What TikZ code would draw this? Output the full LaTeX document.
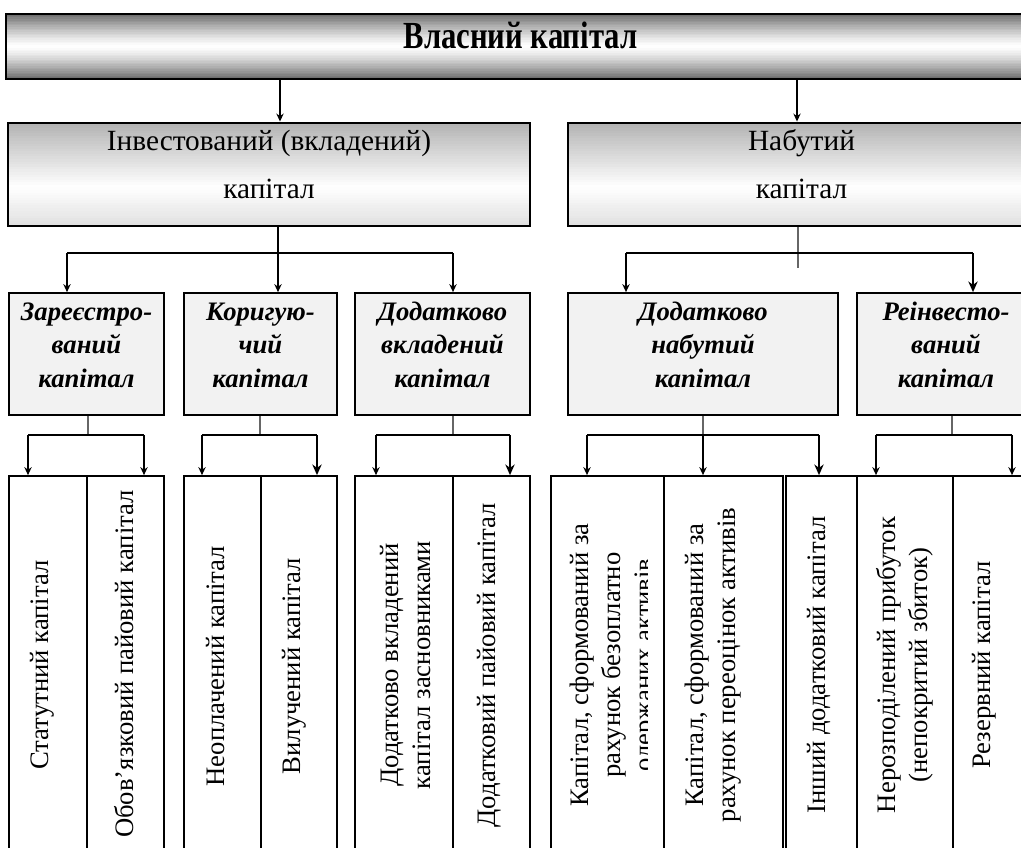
\documentclass[tikz,border=0pt]{standalone}
\usepackage{fontspec}
\setmainfont{Liberation Serif}
\usetikzlibrary{arrows.meta,fit}
\tikzset{
  lvone/.style={draw=black, line width=2.2pt, inner sep=0pt, font=\fontsize{25}{30}\selectfont\bfseries},
  lvtwo/.style={draw=black, line width=2.2pt, inner sep=0pt, align=center, font=\fontsize{22}{36}\selectfont},
  lvthree/.style={draw=black, line width=1.3pt, fill=black!5, inner sep=0pt, align=center, font=\fontsize{20}{25}\selectfont\bfseries\itshape},
  col/.style={draw=black, line width=1.3pt, fill=white, inner sep=0pt},
  vtext/.style={rotate=90, align=center, inner sep=0pt, font=\fontsize{20}{24}\selectfont},
  ln/.style={draw=black, line width=1.1pt},
  stemln/.style={draw=black!60, line width=0.8pt},
  arr/.style={draw=black, line width=1.1pt, -{Stealth[length=6pt,width=5.5pt]}},
  arrk/.style={draw=black, line width=1.8pt, -{Stealth[length=8pt,width=7pt]}},
}
\begin{document}
\begin{tikzpicture}[x=0.75pt,y=-0.75pt]
\useasboundingbox (0,0) rectangle (1021,847);
\clip (0,0) rectangle (1021,847);
\fill[white] (0,0) rectangle (1021,847);

% gradient backgrounds
\foreach \i in {0,...,39}{
  \pgfmathsetmacro\tt{(\i+0.5)/40}
  \pgfmathsetmacro\g{58*abs(2*\tt-1)^1.3}
  \fill[black!\g] (6,{14+65*\i/40}) rectangle (1035,{14+65*(\i+1)/40+0.6});
}
\foreach \i in {0,...,39}{
  \pgfmathsetmacro\tt{(\i+0.5)/40}
  \pgfmathsetmacro\g{\tt<0.62 ? 30*(1-\tt/0.62) : 12*(\tt-0.62)/0.38}
  \fill[black!\g] (8,{123+103*\i/40}) rectangle (530,{123+103*(\i+1)/40+0.6});
  \fill[black!\g] (568,{123+103*\i/40}) rectangle (1035,{123+103*(\i+1)/40+0.6});
}

% level 1
\node[lvone, fit={(6,14) (1035,79)}] (top) {\raisebox{-4pt}{\scalebox{0.92}[1.15]{Власний капітал}}};

% level 2
\node[lvtwo, fit={(8,123) (530,226)}] (inv) {Інвестований (вкладений)\\капітал};
\node[lvtwo, fit={(568,123) (1035,226)}] (nab) {Набутий\\капітал};

% level 3
\node[lvthree, fit={(9,293) (164,415)}] (reg) {Зареєстро-\\ваний\\капітал};
\node[lvthree, fit={(184,293) (337,415)}] (kor) {Коригую-\\чий\\капітал};
\node[lvthree, fit={(355,293) (530,415)}] (dv) {Додатково\\вкладений\\капітал};
\node[lvthree, fit={(568,293) (838,415)}] (dn) {Додатково\\набутий\\капітал};
\node[lvthree, fit={(857,293) (1035,415)}] (rein) {Реінвесто-\\ваний\\капітал};

% level 4 columns
\node[col, fit={(9,476) (87,880)}] (c1) {};
\node[col, fit={(87,476) (164,880)}] (c2) {};
\node[col, fit={(184,476) (261,880)}] (c3) {};
\node[col, fit={(261,476) (337,880)}] (c4) {};
\node[col, fit={(355,476) (453,880)}] (c5) {};
\node[col, fit={(453,476) (530,880)}] (c6) {};
\node[col, fit={(551,476) (664,880)}] (c7) {};
\node[col, fit={(664,476) (783,880)}] (c8) {};
\node[col, fit={(786,476) (857,880)}] (c9) {};
\node[col, fit={(857,476) (953,880)}] (c10) {};
\node[col, fit={(953,476) (1035,880)}] (c11) {};

\node[vtext] (t1) at (42,665) {Статутний капітал};
\node[vtext] (t2) at (124,664) {Обов’язковий пайовий капітал};
\node[vtext] (t3) at (215,666) {Неоплачений капітал};
\node[vtext] (t4) at (294,666) {Вилучений капітал};
\node[vtext] (t5) at (405,665) {Додатково вкладений\\капітал засновниками};
\node[vtext] (t6) at (489,665) {Додатковий пайовий капітал};
\begin{scope}
\clip (551,476) rectangle (647,880);
\node[vtext] (t7) at (614,665) {Капітал, сформований за\\рахунок безоплатно\\одержаних активів};
\end{scope}
\node[vtext] (t8) at (713,665) {Капітал, сформований за\\рахунок переоцінок активів};
\node[vtext] (t9) at (819,665) {Інший додатковий капітал};
\node[vtext] (t10) at (905,665) {Нерозподілений прибуток\\(непокритий збиток)};
\node[vtext] (t11) at (984,665) {Резервний капітал};

% level 1 -> 2
\coordinate (xa) at (280,100);
\coordinate (xb) at (797,100);
\draw[arr] (top.south -| xa) -- (inv.north -| xa);
\draw[arr] (top.south -| xb) -- (nab.north -| xb);

% level 2 -> 3
\coordinate (j1) at (278,253);
\coordinate (b1) at (67,253);
\coordinate (b3) at (453,253);
\draw[ln] (inv.south -| j1) -- (j1);
\draw[ln] (b1) -- (b3);
\draw[arr] (b1) -- (reg.north -| b1);
\draw[arr] (j1) -- (kor.north -| j1);
\draw[arr] (b3) -- (dv.north -| b3);

\coordinate (j2) at (798,253);
\coordinate (j2e) at (798,268);
\coordinate (b4) at (626,253);
\coordinate (b5) at (973,253);
\draw[stemln] (nab.south -| j2) -- (j2e);
\draw[ln] (b4) -- (b5);
\draw[arr] (b4) -- (dn.north -| b4);
\draw[arrk] (b5) -- (rein.north -| b5);

% level 3 -> 4
\coordinate (s1) at (88,435);
\coordinate (d1) at (28,435);
\coordinate (d2) at (144,435);
\draw[stemln] (reg.south -| s1) -- (s1);
\draw[ln] (d1) -- (d2);
\draw[arr] (d1) -- (c1.north -| d1);
\draw[arr] (d2) -- (c2.north -| d2);

\coordinate (s2) at (260,435);
\coordinate (d3) at (202,435);
\coordinate (d4) at (317,435);
\draw[stemln] (kor.south -| s2) -- (s2);
\draw[ln] (d3) -- (d4);
\draw[arr] (d3) -- (c3.north -| d3);
\draw[arrk] (d4) -- (c4.north -| d4);

\coordinate (s3) at (453,435);
\coordinate (d5) at (376,435);
\coordinate (d6) at (510,435);
\draw[stemln] (dv.south -| s3) -- (s3);
\draw[ln] (d5) -- (d6);
\draw[arr] (d5) -- (c5.north -| d5);
\draw[arrk] (d6) -- (c6.north -| d6);

\coordinate (s4) at (703,435);
\coordinate (d7) at (587,435);
\coordinate (d9) at (819,435);
\draw[stemln] (dn.south -| s4) -- (s4);
\draw[ln] (d7) -- (d9);
\draw[arr] (d7) -- (c7.north -| d7);
\draw[arr] (s4) -- (c8.north -| s4);
\draw[arrk] (d9) -- (c9.north -| d9);

\coordinate (s5) at (952,435);
\coordinate (d10) at (876,435);
\coordinate (d11) at (1012,435);
\draw[stemln] (rein.south -| s5) -- (s5);
\draw[ln] (d10) -- (d11);
\draw[arr] (d10) -- (c10.north -| d10);
\draw[arr] (d11) -- (c11.north -| d11);
\end{tikzpicture}
\end{document}
